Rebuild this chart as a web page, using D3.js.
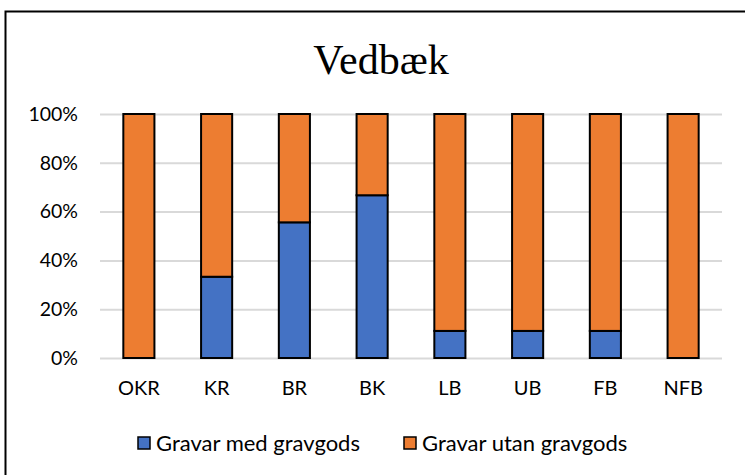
<!DOCTYPE html>
<html lang="sv">
<head>
<meta charset="UTF-8">
<title>Vedbæk</title>
<style>
  body { margin: 0; padding: 0; background: white; }
  .tick text { font-family: Lato, "Open Sans", sans-serif; fill: #000; }
  .legend text { font-family: Lato, "Open Sans", sans-serif; }
</style>
</head>
<body>
<script src="https://cdn.jsdelivr.net/npm/d3@7/dist/d3.min.js"></script>
<script>
// data (percent of graves)
var categories = ['OKR', 'KR', 'BR', 'BK', 'LB', 'UB', 'FB', 'NFB'];
var medGravgods = [0, 33.3, 55.6, 66.7, 11.1, 11.1, 11.1, 0];
var utanGravgods = [100, 66.7, 44.4, 33.3, 88.9, 88.9, 88.9, 100];
var seriesNames = ['Gravar med gravgods', 'Gravar utan gravgods'];
var yTicks = [0, 20, 40, 60, 80, 100];

var width = 745, height = 475;
var colors = ['#4472C4', '#ED7D31'];

var svg = d3.select('body').append('svg')
    .attr('width', width)
    .attr('height', height);

// chart border
svg.append('rect')
    .attr('x', 5.5).attr('y', 11.5)
    .attr('width', 760).attr('height', 480)
    .attr('fill', 'white')
    .attr('stroke', '#000')
    .attr('stroke-width', 2);

var plot = { left: 100, right: 722, top: 114, bottom: 358 };

var x = d3.scaleBand()
    .domain(categories)
    .range([plot.left, plot.right])
    .paddingInner(0.6)
    .paddingOuter(0.3);

var y = d3.scaleLinear()
    .domain([0, 100])
    .range([plot.bottom, plot.top]);

// title
svg.append('text')
    .attr('x', 381)
    .attr('y', 74)
    .attr('text-anchor', 'middle')
    .style('font-family', '"Liberation Serif", "Times New Roman", serif')
    .style('font-size', '42px')
    .text('Vedbæk');

// gridlines + y labels
var yAxis = svg.append('g')
    .attr('transform', 'translate(' + plot.left + ',0)')
    .call(d3.axisLeft(y).tickValues(yTicks)
        .tickSize(-(plot.right - plot.left))
        .tickPadding(22)
        .tickFormat(function(d) { return d + '%'; }));
yAxis.select('.domain').remove();
yAxis.selectAll('.tick line').attr('stroke', '#d9d9d9').attr('stroke-width', 2);
yAxis.selectAll('.tick text').style('font-size', '19.5px');

// x labels
var xAxis = svg.append('g')
    .attr('transform', 'translate(0,' + plot.bottom + ')')
    .call(d3.axisBottom(x).tickSize(0).tickPadding(23));
xAxis.select('.domain').remove();
xAxis.selectAll('.tick text').style('font-size', '20px');

// stacked bars
var rows = categories.map(function(c, i) {
    return { cat: c, med: medGravgods[i], utan: utanGravgods[i] };
});
var stack = d3.stack().keys(['med', 'utan'])(rows);

svg.append('g').selectAll('g')
    .data(stack)
    .join('g')
    .attr('fill', function(d, i) { return colors[i]; })
    .selectAll('rect')
    .data(function(d) { return d.filter(function(p) { return p[1] - p[0] > 0; }); })
    .join('rect')
    .attr('x', function(d) { return x(d.data.cat); })
    .attr('y', function(d) { return y(d[1]); })
    .attr('width', x.bandwidth())
    .attr('height', function(d) { return y(d[0]) - y(d[1]); })
    .attr('stroke', '#000')
    .attr('stroke-width', 2);

// legend
var legend = svg.append('g').attr('class', 'legend');
var legendX = [138, 404];
seriesNames.forEach(function(name, i) {
    var g = legend.append('g').attr('transform', 'translate(' + legendX[i] + ',443)');
    g.append('rect')
        .attr('x', 0).attr('y', -6)
        .attr('width', 12).attr('height', 12)
        .attr('fill', colors[i])
        .attr('stroke', '#000')
        .attr('stroke-width', 1.5);
    g.append('text')
        .attr('x', 18).attr('y', 0)
        .attr('dy', '0.35em')
        .style('font-size', '22px')
        .text(name);
});
</script>
</body>
</html>
